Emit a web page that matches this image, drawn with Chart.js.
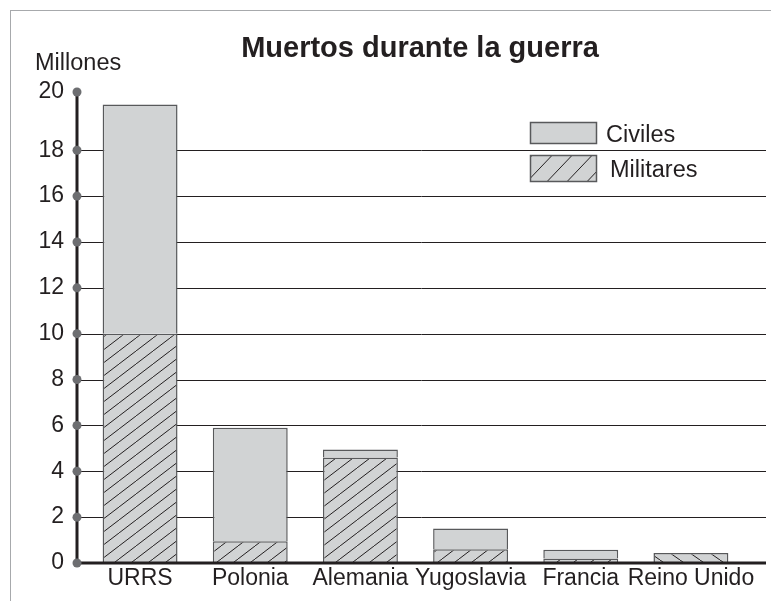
<!DOCTYPE html>
<html>
<head>
<meta charset="utf-8">
<script src="https://cdn.jsdelivr.net/npm/chart.js@4"></script>
<style>
  body { margin: 0; background: #fff; }
  canvas { display: block; }
</style>
</head>
<body>
<canvas id="chart" width="771" height="601"></canvas>
<script>
// Chart data
const categories = ["URRS", "Polonia", "Alemania", "Yugoslavia", "Francia", "Reino Unido"];
const militares = [10, 0.95, 4.6, 0.6, 0.2, 0.44];
const civiles = [10, 4.95, 0.35, 0.9, 0.38, null];
// tick positions; the "20" label sits at the top end of the axis, as in the source
const yTickValues = [0, 2, 4, 6, 8, 10, 12, 14, 16, 18, 20.54];
const yTickLabels = ["0", "2", "4", "6", "8", "10", "12", "14", "16", "18", "20"];
const yMax = 20.54;

const INK = "#231f20";
const GRAY = "#d1d3d4";
const EDGE = "#58595b";
const FONT = "'Liberation Sans', Arial, Helvetica, sans-serif";

Chart.defaults.font.family = FONT;
Chart.defaults.color = INK;

const canvas = document.getElementById("chart");
const ctx = canvas.getContext("2d");

// Hatch pattern tile (dir 1 = "/", dir -1 = "\")
function hatch(w, h, dir) {
  const c = document.createElement("canvas");
  c.width = w; c.height = h;
  const g = c.getContext("2d");
  g.fillStyle = GRAY;
  g.fillRect(0, 0, w, h);
  g.strokeStyle = INK;
  g.lineWidth = 1;
  g.beginPath();
  for (const dx of [-w, 0, w]) {
    if (dir > 0) { g.moveTo(dx, h); g.lineTo(dx + w, 0); }
    else { g.moveTo(dx, 0); g.lineTo(dx + w, h); }
  }
  g.stroke();
  return ctx.createPattern(c, "repeat");
}

const slash = hatch(17, 13, 1);
const backslash = hatch(20, 14, -1);
const legendSlash = hatch(20, 21, 1);

// Frame, title, gridlines, axis, legend
const decor = {
  id: "decor",
  beforeDraw(chart) {
    const c = chart.ctx;
    c.save();
    c.fillStyle = "#fff";
    c.fillRect(0, 0, chart.width, chart.height);
    c.strokeStyle = "#a7a9ac";
    c.lineWidth = 1;
    c.strokeRect(10.5, 10.5, 800, 700);
    c.restore();
  },
  beforeDatasetsDraw(chart) {
    const c = chart.ctx;
    const y = chart.scales.y;
    c.save();
    c.strokeStyle = INK;
    c.lineWidth = 1;
    yTickValues.slice(1, -1).forEach(v => {
      const py = Math.round(y.getPixelForValue(v)) + 0.5;
      c.beginPath();
      c.moveTo(77, py);
      c.lineTo(766, py);
      c.stroke();
    });
    c.restore();
  },
  afterDatasetsDraw(chart) {
    const c = chart.ctx;
    const y = chart.scales.y;
    const y0 = y.getPixelForValue(0);
    const yTop = y.getPixelForValue(yMax);
    c.save();
    // axes
    c.strokeStyle = INK;
    c.lineWidth = 3;
    c.beginPath();
    c.moveTo(77, yTop);
    c.lineTo(77, y0);
    c.lineTo(766, y0);
    c.stroke();
    // dots on the ticks
    c.fillStyle = "#6d6e71";
    yTickValues.forEach(v => {
      c.beginPath();
      c.arc(77, y.getPixelForValue(v), 4.5, 0, Math.PI * 2);
      c.fill();
    });
    // title and unit
    c.fillStyle = INK;
    c.textBaseline = "alphabetic";
    c.textAlign = "center";
    c.font = "bold 29px " + FONT;
    c.fillText("Muertos durante la guerra", 420, 57);
    c.textAlign = "left";
    c.font = "23.5px " + FONT;
    c.fillText("Millones", 35, 70);
    // legend
    c.lineWidth = 1.5;
    c.strokeStyle = EDGE;
    c.fillStyle = GRAY;
    c.fillRect(530, 122, 67, 22);
    c.strokeRect(530.5, 122.5, 66, 21);
    c.fillStyle = legendSlash;
    c.fillRect(530, 155, 67, 27);
    c.strokeRect(530.5, 155.5, 66, 26);
    c.fillStyle = INK;
    c.fillText(chart.data.datasets[1].label, 606, 142);
    c.fillText(chart.data.datasets[0].label, 610, 177);
    c.restore();
  }
};

new Chart(ctx, {
  type: "bar",
  data: {
    labels: categories,
    datasets: [
      {
        label: "Militares",
        data: militares,
        backgroundColor: [slash, slash, slash, slash, slash, backslash],
        borderColor: EDGE,
        borderWidth: 1.5
      },
      {
        label: "Civiles",
        data: civiles,
        backgroundColor: GRAY,
        borderColor: EDGE,
        borderWidth: 1.5
      }
    ]
  },
  options: {
    responsive: false,
    animation: false,
    layout: { padding: { left: 0, right: 25, top: 92, bottom: 0 } },
    categoryPercentage: 1,
    barPercentage: 0.68,
    plugins: {
      legend: { display: false },
      title: { display: false },
      tooltip: { enabled: false }
    },
    scales: {
      x: {
        stacked: true,
        offset: true,
        grid: { display: false, drawTicks: false },
        border: { display: false },
        ticks: { font: { size: 23 }, color: INK, padding: 2, maxRotation: 0, autoSkip: false },
        afterFit(scale) { scale.height = 38; }
      },
      y: {
        stacked: true,
        min: 0,
        max: yMax,
        grid: { display: false, drawTicks: false },
        border: { display: false },
        afterBuildTicks(scale) {
          scale.ticks = yTickValues.map(v => ({ value: v }));
        },
        ticks: {
          font: { size: 23 },
          color: INK,
          padding: 21,
          callback: (v) => yTickLabels[yTickValues.indexOf(v)]
        },
        afterFit(scale) { scale.width = 85; }
      }
    }
  },
  plugins: [decor]
});
</script>
</body>
</html>
